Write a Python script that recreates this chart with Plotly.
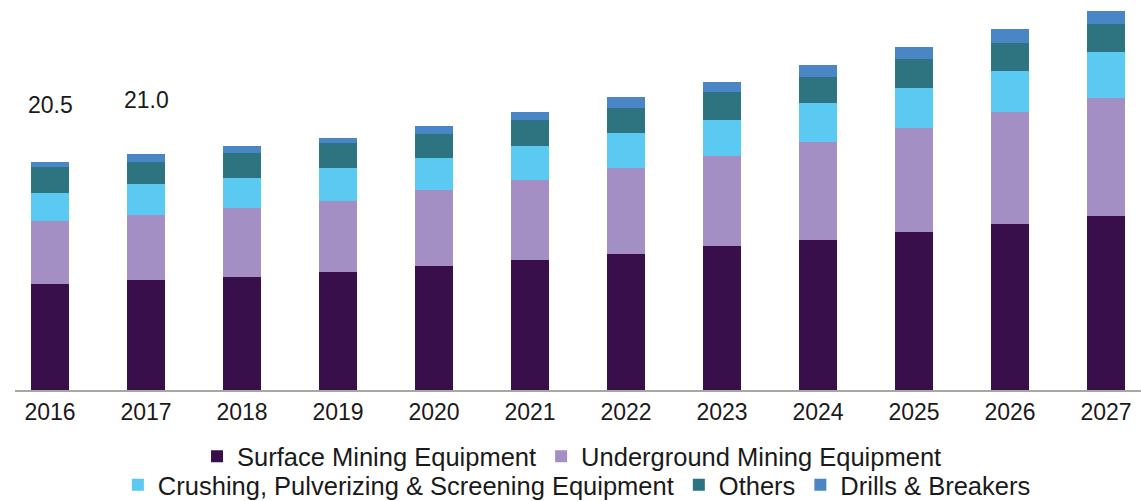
import plotly.graph_objects as go

years = ["2016", "2017", "2018", "2019", "2020", "2021", "2022", "2023", "2024", "2025", "2026", "2027"]

surface = [9.48, 9.84, 10.16, 10.56, 11.15, 11.66, 12.20, 12.91, 13.45, 14.20, 14.89, 15.63]
underground = [5.70, 5.86, 6.16, 6.42, 6.79, 7.17, 7.69, 8.07, 8.76, 9.33, 10.07, 10.58]
crushing = [2.51, 2.78, 2.72, 2.96, 2.90, 3.08, 3.14, 3.23, 3.50, 3.59, 3.65, 4.07]
others = [2.28, 2.00, 2.19, 2.19, 2.13, 2.30, 2.30, 2.54, 2.33, 2.55, 2.48, 2.51]
drills = [0.50, 0.69, 0.68, 0.50, 0.72, 0.74, 0.93, 0.90, 1.10, 1.08, 1.28, 1.19]

label_years = ["2016", "2017"]
label_texts = ["20.5", "21.0"]
label_heights = [25.6, 26.0]

series = [
    ("Surface Mining Equipment", surface, "#380f48", "legend"),
    ("Underground Mining Equipment", underground, "#a38fc4", "legend"),
    ("Crushing, Pulverizing & Screening Equipment", crushing, "#5acaf3", "legend2"),
    ("Others", others, "#2d7480", "legend2"),
    ("Drills & Breakers", drills, "#4a86c6", "legend2"),
]

FONT = "Liberation Sans, Arial, sans-serif"

fig = go.Figure()
for name, vals, color, lg in series:
    fig.add_trace(go.Bar(
        x=years, y=vals, name=name, width=0.4,
        marker=dict(color=color, line=dict(width=0)),
        legend=lg,
    ))

for yr, txt, h in zip(label_years, label_texts, label_heights):
    fig.add_annotation(x=years.index(yr), y=h, xref="x", yref="y", text=txt, showarrow=False,
                       font=dict(family=FONT, size=23, color="#1a1a1a"))

fig.update_layout(
    barmode="stack",
    width=1141, height=501,
    margin=dict(l=15, r=0, t=0, b=111, autoexpand=False),
    paper_bgcolor="white", plot_bgcolor="white",
    font=dict(family=FONT, color="#1a1a1a"),
    xaxis=dict(
        type="category", range=[-0.365, 11.365], automargin=False,
        showline=True, linecolor="#a6a6a6", linewidth=2,
        showgrid=False, ticks="", zeroline=False,
        tickfont=dict(family=FONT, size=23, color="#1a1a1a"),
    ),
    yaxis=dict(range=[0, 34.98], visible=False, showgrid=False, zeroline=False, automargin=False),
    showlegend=True,
    legend=dict(orientation="h", x=0.4947, xanchor="center", y=-0.171, yanchor="middle",
                font=dict(family=FONT, size=25.5, color="#1a1a1a"),
                bgcolor="rgba(0,0,0,0)", traceorder="normal"),
    legend2=dict(orientation="h", x=0.499, xanchor="center", y=-0.244, yanchor="middle",
                 font=dict(family=FONT, size=25.5, color="#1a1a1a"),
                 bgcolor="rgba(0,0,0,0)", traceorder="normal"),
)

fig.write_html("out.html",
               config={"displayModeBar": False},
               post_script="document.body.style.margin='0';document.body.style.overflow='hidden';")
